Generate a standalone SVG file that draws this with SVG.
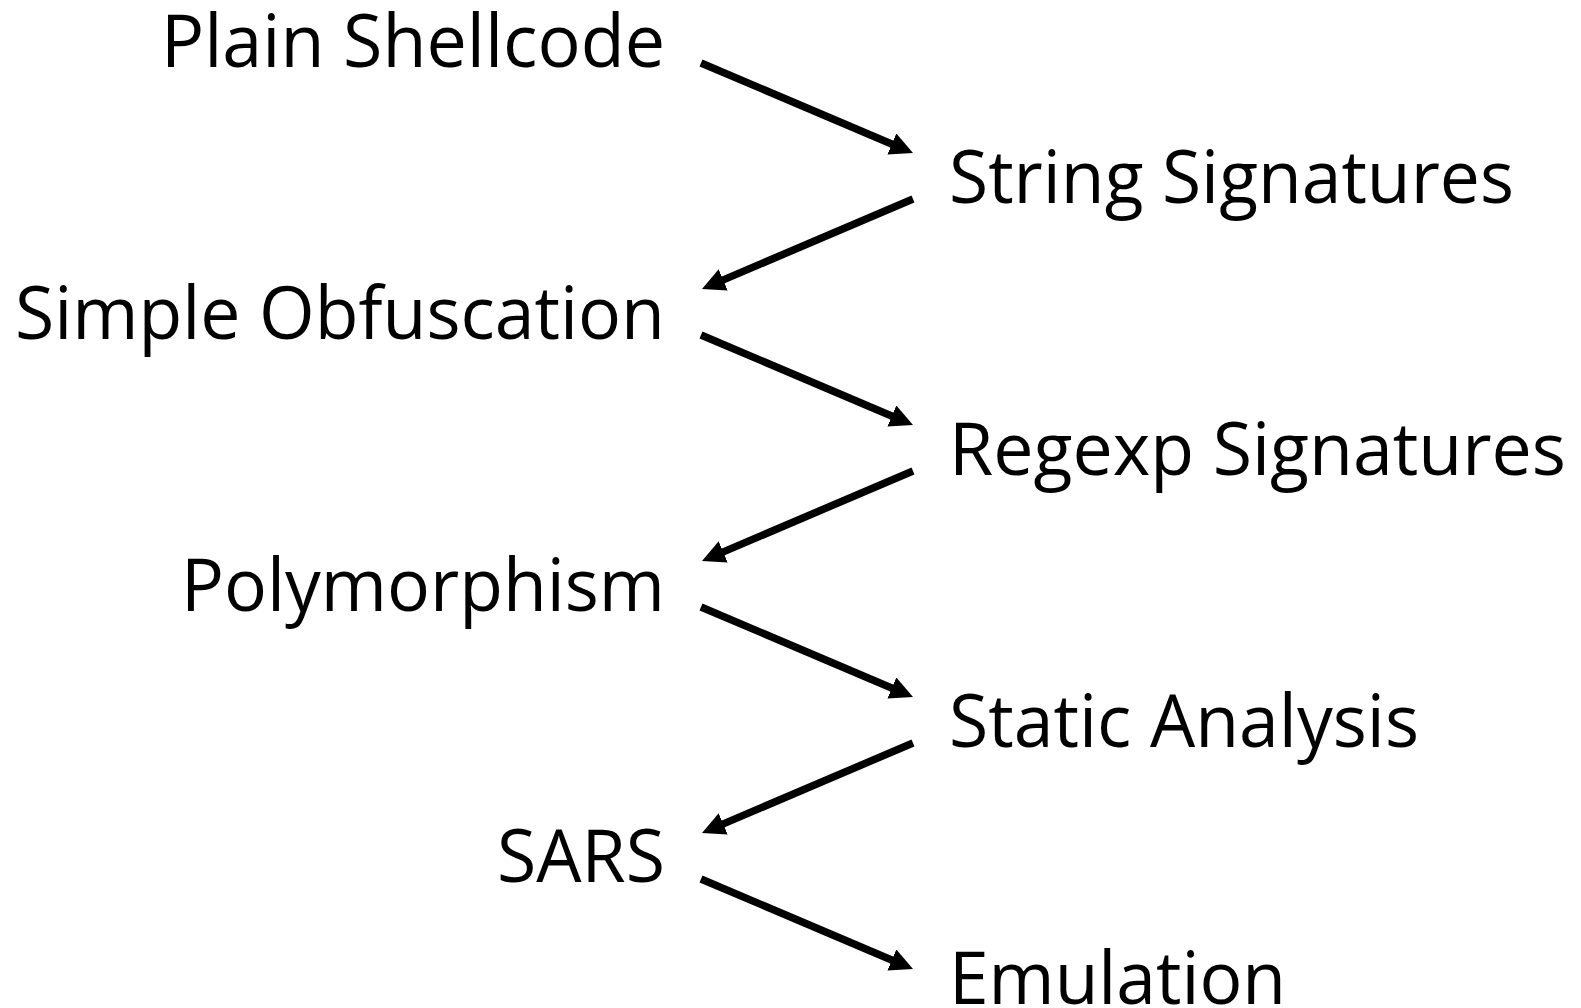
<svg xmlns="http://www.w3.org/2000/svg" width="1581" height="1008" viewBox="0 0 1581 1008">
  <style>
    .lbl { font-family: "Open Sans", "Noto Sans", sans-serif; font-size: 74px; fill: #000; }
    .left { text-anchor: end; }
    .conn line { stroke: #000; stroke-width: 7.5; stroke-linecap: butt; marker-end: url(#head); }
  </style>
  <defs>
    <marker id="head" markerUnits="userSpaceOnUse" viewBox="0 0 23 23" markerWidth="23" markerHeight="23" refX="3" refY="11.5" orient="auto">
      <path d="M0,0 L23,11.5 L0,23 Z" fill="#000"/>
    </marker>
  </defs>
  <rect width="1581" height="1008" fill="#fff"/>

  <!-- attack techniques (left column) -->
  <g id="plain-shellcode"><text class="lbl left" x="665" y="67" textLength="504" lengthAdjust="spacingAndGlyphs">Plain Shellcode</text></g>
  <g id="simple-obfuscation"><text class="lbl left" x="665" y="339" textLength="650" lengthAdjust="spacingAndGlyphs">Simple Obfuscation</text></g>
  <g id="polymorphism"><text class="lbl left" x="665" y="611" textLength="484" lengthAdjust="spacingAndGlyphs">Polymorphism</text></g>
  <g id="sars"><text class="lbl left" x="665" y="882" textLength="168" lengthAdjust="spacingAndGlyphs">SARS</text></g>

  <!-- detection techniques (right column) -->
  <g id="string-signatures"><text class="lbl" x="949" y="203" textLength="565" lengthAdjust="spacingAndGlyphs">String Signatures</text></g>
  <g id="regexp-signatures"><text class="lbl" x="949" y="475" textLength="617" lengthAdjust="spacingAndGlyphs">Regexp Signatures</text></g>
  <g id="static-analysis"><text class="lbl" x="949" y="747" textLength="470" lengthAdjust="spacingAndGlyphs">Static Analysis</text></g>
  <g id="emulation"><text class="lbl" x="949" y="1004" textLength="337" lengthAdjust="spacingAndGlyphs">Emulation</text></g>

  <!-- connectors: each line stops where its arrowhead begins -->
  <g id="connectors" class="conn">
    <line x1="701" y1="63" x2="894.6" y2="145.2"/>
    <line x1="913" y1="199" x2="720.4" y2="281.1"/>
    <line x1="701" y1="335" x2="894.6" y2="417.2"/>
    <line x1="913" y1="471" x2="720.4" y2="553.1"/>
    <line x1="701" y1="607" x2="894.6" y2="689.2"/>
    <line x1="913" y1="743" x2="720.4" y2="825.1"/>
    <line x1="701" y1="879" x2="894.6" y2="961.2"/>
  </g>
</svg>
